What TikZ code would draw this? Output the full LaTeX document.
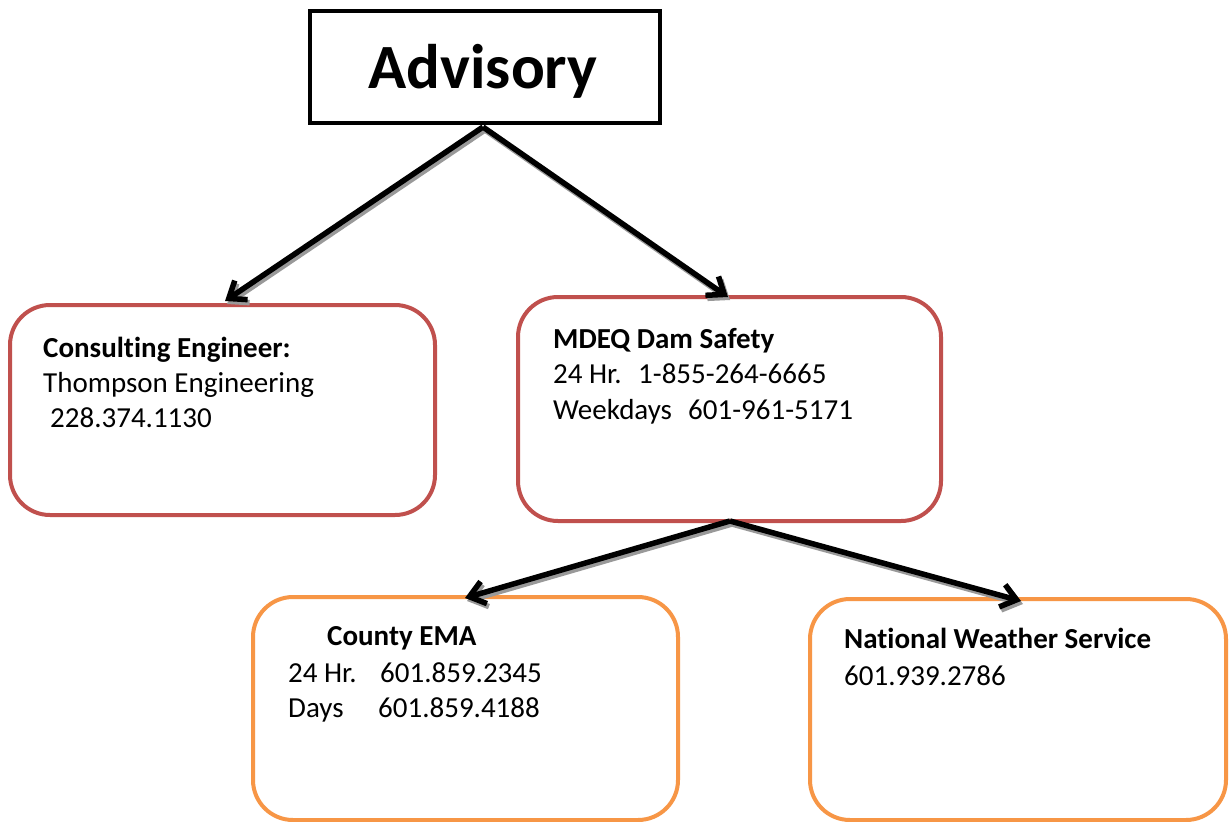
\documentclass[tikz,border=0pt]{standalone}
\usepackage{fontspec}
\setmainfont{Carlito}[Ligatures={NoCommon}]
\usetikzlibrary{arrows.meta}
\definecolor{redline}{HTML}{C0504D}
\definecolor{orangeline}{HTML}{F79646}
\definecolor{shadowgray}{HTML}{999999}
\begin{document}
\begin{tikzpicture}[x=1pt,y=-1pt,
  basebox/.style={rectangle,line width=4pt,rounded corners=40pt,fill=white,inner sep=0pt},
  redbox/.style={basebox,draw=redline},
  orangebox/.style={basebox,draw=orangeline},
  txt/.style={anchor=base west,inner sep=0pt,font=\fontsize{29}{35}\selectfont},
  btxt/.style={txt,font=\fontsize{29}{35}\selectfont\bfseries},
  conn/.style={line width=5.5pt,-{Straight Barb[length=15pt,width=23pt,line width=5.5pt]}},
  connshadow/.style={conn,draw=shadowgray,transform canvas={shift={(2,3)}}}
]
\useasboundingbox (0,0) rectangle (1229,822);
\fill[white] (0,0) rectangle (1229,822);

% boxes
\node[rectangle,draw=black,line width=4.5pt,fill=white,minimum width=350pt,minimum height=112pt,inner sep=0pt] (adv) at (485,67) {};
\node[anchor=base,inner sep=0pt,font=\fontsize{63}{63}\selectfont\bfseries] (advt) at (483,88) {Advisory};

\node[redbox,minimum width=425pt,minimum height=210pt] (ce) at (222.5,410) {};
\node[redbox,minimum width=423pt,minimum height=224pt] (mdeq) at (729.5,409) {};
\node[orangebox,minimum width=425pt,minimum height=223pt] (ema) at (465.5,708.5) {};
\node[orangebox,minimum width=416pt,minimum height=221pt] (nws) at (1018,709.5) {};

% texts
\node[btxt] (ce1) at (43,357) {Consulting Engineer:};
\node[txt] (ce2) at (43,392) {Thompson Engineering};
\node[txt] (ce3) at (50,427) {228.374.1130};

\node[btxt] (md1) at (553,348) {MDEQ Dam Safety};
\node[txt] (md2) at (553,383) {\makebox[85pt][l]{24 Hr.}1-855-264-6665};
\node[txt] (md3) at (553,419) {\makebox[135pt][l]{Weekdays}601-961-5171};

\node[btxt] (em1) at (327,645) {County EMA};
\node[txt] (em2) at (288,682) {\makebox[92pt][l]{24 Hr.}601.859.2345};
\node[txt] (em3) at (288,717) {\makebox[90pt][l]{Days}601.859.4188};

\node[btxt] (nw1) at (844,648) {National Weather Service};
\node[txt] (nw2) at (844,685) {601.939.2786};

% connector end points
\coordinate (a0) at (483,127);
\coordinate (t1) at (225,301);
\coordinate (t2) at (728,297);
\coordinate (m0) at (730,521);
\coordinate (t3) at (465,598);
\coordinate (t4) at (1021,601);

\draw[connshadow] (a0) -- (t1);
\draw[connshadow] (a0) -- (t2);
\draw[connshadow] (m0) -- (t3);
\draw[connshadow] (m0) -- (t4);
\draw[conn] (a0) -- (t1);
\draw[conn] (a0) -- (t2);
\draw[conn] (m0) -- (t3);
\draw[conn] (m0) -- (t4);
\end{tikzpicture}
\end{document}
